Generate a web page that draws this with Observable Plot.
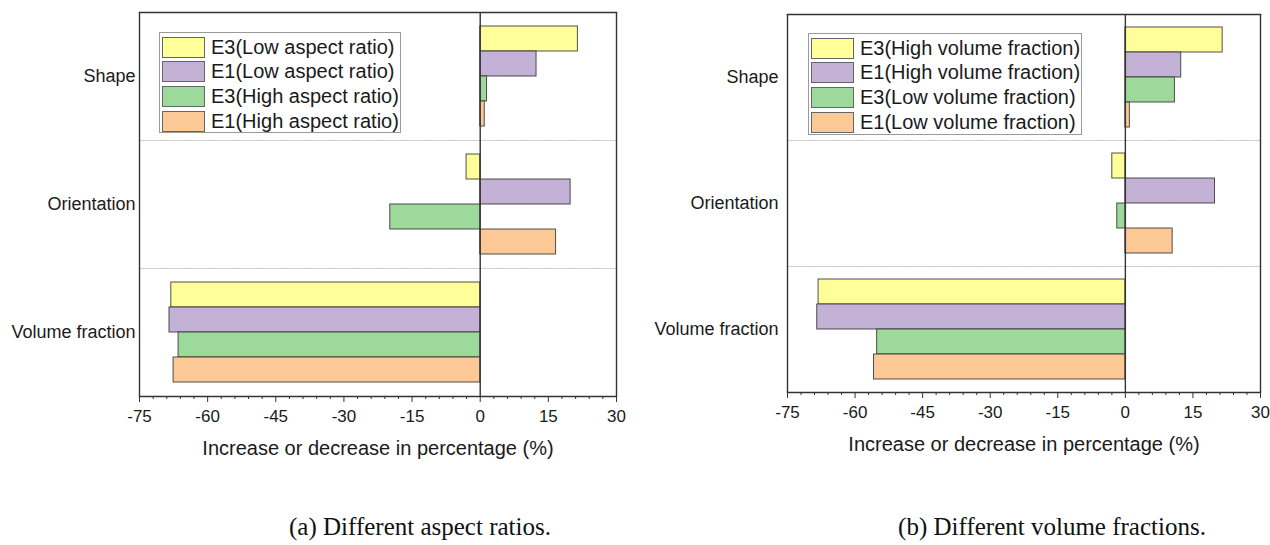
<!DOCTYPE html>
<html>
<head>
<meta charset="utf-8">
<script src="https://cdn.jsdelivr.net/npm/d3@7"></script>
<script src="https://cdn.jsdelivr.net/npm/@observablehq/plot@0.6"></script>
<style>
  html, body { margin: 0; padding: 0; background: #fff; }
  #root { position: relative; width: 1270px; height: 545px; background: #fff; overflow: hidden; }
  .panel { position: absolute; top: 0; }
  .legend { position: absolute; border: 1px solid #9a9a9a; background: #fff; box-sizing: border-box;
            font-family: "Liberation Sans", Arial, sans-serif; font-size: 20px; color: #1a1a1a; padding: 2px 0 0 2px; }
  .legend .row { display: flex; align-items: center; height: 24.6px; }
  .legend .sw { width: 43px; height: 21px; border: 1px solid #666; box-sizing: border-box; margin-right: 6px; flex: none; }
  .caption { position: absolute; top: 513px; font-family: "Liberation Serif", "Times New Roman", serif; font-size: 25px;
             color: #111; white-space: nowrap; transform: translateX(-50%); }
</style>
</head>
<body>
<div id="root"></div>
<script>
// ---- data ----
const categories = ["Shape", "Orientation", "Volume fraction"];

const seriesA = ["E3(Low aspect ratio)", "E1(Low aspect ratio)", "E3(High aspect ratio)", "E1(High aspect ratio)"];
const a_E3_low  = [21.5, -3.0, -68.0];
const a_E1_low  = [12.4, 19.9, -68.4];
const a_E3_high = [1.5, -19.8, -66.4];
const a_E1_high = [1.0, 16.7, -67.5];

const seriesB = ["E3(High volume fraction)", "E1(High volume fraction)", "E3(Low volume fraction)", "E1(Low volume fraction)"];
const b_E3_high = [21.6, -2.9, -68.1];
const b_E1_high = [12.4, 19.9, -68.4];
const b_E3_low  = [11.0, -1.8, -55.1];
const b_E1_low  = [1.0, 10.5, -55.8];

const colors = ["#FFFF99", "#C3B1D6", "#9ED99C", "#FCC896"];
const xTicks = [-75, -60, -45, -30, -15, 0, 15, 30];
const xMinorTicks = d3.range(-75, 31, 3).filter(v => v % 15 !== 0);
const xLabel = "Increase or decrease in percentage (%)";
const captionA = "(a) Different aspect ratios.";
const captionB = "(b) Different volume fractions.";

function tidy(series, values) {
  const rows = [];
  categories.forEach((c, ci) => series.forEach((s, si) => rows.push({cat: c, series: s, value: values[si][ci]})));
  return rows;
}

function chart(series, values, o) {
  const data = tidy(series, values);
  return Plot.plot({
    width: o.width, height: o.height,
    marginLeft: o.marginLeft, marginRight: o.marginRight, marginTop: o.marginTop, marginBottom: o.marginBottom,
    style: {fontFamily: "'Liberation Sans', Arial, sans-serif", fontSize: "18px", color: "#1a1a1a", background: "transparent", overflow: "visible"},
    x: {domain: [-75, 30]},
    y: {domain: series, paddingInner: 0, paddingOuter: 0.5, axis: null},
    fy: {domain: categories, padding: 0, axis: "left", label: null, tickSize: 0, tickPadding: o.fyPad},
    color: {domain: series, range: colors},
    marks: [
      Plot.frame({anchor: "top", stroke: "#c8c8c8", strokeDasharray: "1.5,1.5"}),
      Plot.barX(data, {x: "value", y: "series", fy: "cat", fill: "series", stroke: "#333", strokeWidth: 1, strokeOpacity: 0.85}),
      Plot.ruleX([-75, 0, 30], {stroke: "#333", strokeWidth: 1.4}),
      Plot.frame({anchor: "top", fy: () => categories[0], stroke: "#333", strokeWidth: 1.4}),
      Plot.frame({anchor: "bottom", fy: () => categories[categories.length - 1], stroke: "#333", strokeWidth: 1.4}),
      Plot.axisX({ticks: xTicks, tickSize: 6, tickPadding: 7, fontSize: 17, tickFormat: d => String(d), label: null, stroke: "#333"}),
      Plot.axisX({ticks: xMinorTicks, tickSize: 3, tickFormat: () => "", label: null, stroke: "#333"}),
      Plot.axisX({ticks: [], label: xLabel, labelAnchor: "center", labelOffset: 58, fontSize: 20, labelArrow: "none"})
    ]
  });
}

const root = document.getElementById("root");

function addPanel(svg, left) {
  const d = document.createElement("div");
  d.className = "panel";
  d.style.left = left + "px";
  d.appendChild(svg);
  root.appendChild(d);
}

function addLegend(series, left, top, width, height) {
  const lg = document.createElement("div");
  lg.className = "legend";
  Object.assign(lg.style, {left: left + "px", top: top + "px", width: width + "px", height: height + "px"});
  series.forEach((s, i) => {
    const r = document.createElement("div");
    r.className = "row";
    const sw = document.createElement("div");
    sw.className = "sw";
    sw.style.background = colors[i];
    const t = document.createElement("span");
    t.textContent = s;
    r.appendChild(sw); r.appendChild(t);
    lg.appendChild(r);
  });
  root.appendChild(lg);
}

function addCaption(text, cx) {
  const c = document.createElement("div");
  c.className = "caption";
  c.style.left = cx + "px";
  c.textContent = text;
  root.appendChild(c);
}

addPanel(chart(seriesA, [a_E3_low, a_E1_low, a_E3_high, a_E1_high],
  {width: 632, height: 470, marginLeft: 139, marginRight: 16, marginTop: 12, marginBottom: 74, fyPad: 4}), 0);
addPanel(chart(seriesB, [b_E3_high, b_E1_high, b_E3_low, b_E1_low],
  {width: 620, height: 470, marginLeft: 137, marginRight: 10, marginTop: 13, marginBottom: 77, fyPad: 9}), 650);

addLegend(seriesA, 159, 32, 242, 101);
addLegend(seriesB, 808, 33, 274, 102);

addCaption(captionA, 420);
addCaption(captionB, 1052);
</script>
</body>
</html>
